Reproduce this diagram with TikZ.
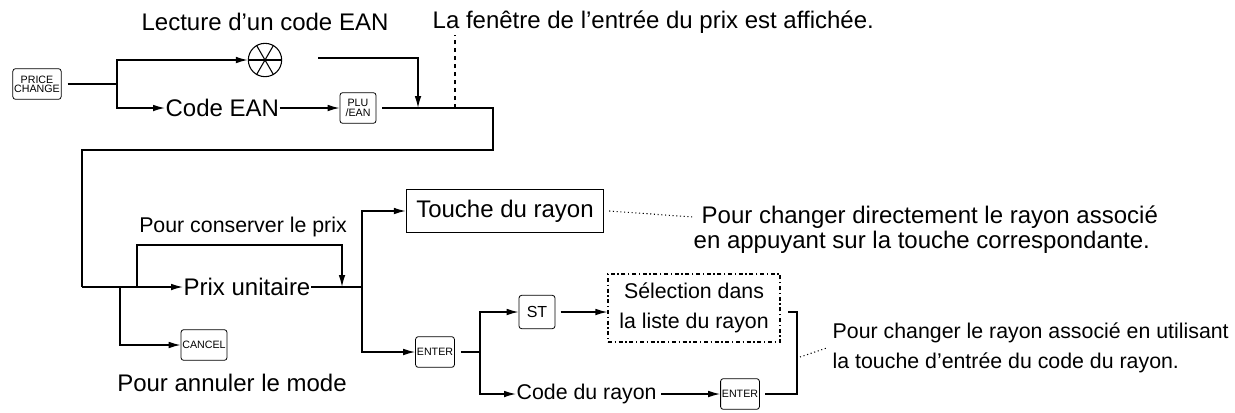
\documentclass[tikz,border=0pt]{standalone}
\usepackage{fontspec}
\setmainfont{Liberation Sans}
\usetikzlibrary{arrows.meta}
\begin{document}
\begin{tikzpicture}[x=0.75pt,y=-0.75pt,
  line width=1pt,
  txt/.style={inner sep=0pt,font=\fontsize{18}{21}\selectfont},
  mtxt/.style={inner sep=0pt,font=\fontsize{16}{19}\selectfont},
  key/.style={draw,rounded corners=2pt,line width=0.6pt,inner sep=1pt,align=center,font=\fontsize{8}{8}\selectfont,minimum height=23pt},
  arr/.style={-{Latex[length=9pt,width=5pt]}},
  dotl/.style={dotted,line width=0.8pt}]
\useasboundingbox (0,0) rectangle (1235,412);
% top part
\node[key,minimum width=36pt] (pc) at (37,84) {PRICE\\[-1pt]CHANGE};
\coordinate (b1) at (117,84);
\draw (pc.east) ++(6,0) -- (b1);
\node[draw,circle,minimum size=25pt,inner sep=0pt,line width=0.8pt] (scan) at (265,60) {};
\foreach \a in {0,60,120}{\draw[line width=0.8pt] (scan.\a) -- (scan.\a+180);}
\node[txt] (lect) at (265,22) {Lecture d’un code EAN};
\draw[arr] (b1) |- (scan.west);
\node[txt,anchor=west] (cean) at (165,108) {Code EAN};
\draw[arr] (b1) |- (cean.west);
\node[key,minimum width=27pt] (plu) at (358,108) {PLU\\[-1pt]/EAN};
\draw[arr] (cean.east) -- (plu.west);
\coordinate (s1) at (318,58);
\coordinate (j1) at (418,108);
\draw[arr] (s1) -| (j1);
\coordinate (c1) at (493,108);
\coordinate (c2) at (82,287);
\draw (plu.east) ++(6,0) -- (c1) |- (82,150) -- (c2);
\coordinate (d1) at (455,108);
\node[txt,anchor=west] (fen) at (432,22) {La fenêtre de l’entrée du prix est affichée.};
\draw[dashed,line width=0.8pt] (d1) -- (455,35);
% middle part
\node[txt,anchor=west] (prix) at (183,287) {Prix unitaire};
\draw[arr] (c2) -- (prix.west);
\coordinate (b2) at (120,287);
\node[key,minimum width=28pt] (cancel) at (204,345) {CANCEL};
\draw[arr] (b2) |- (cancel.west);
\node[txt] (annul) at (232,383) {Pour annuler le mode};
\coordinate (b3) at (137,287);
\coordinate (j2) at (342,287);
\draw[arr] (b3) -- (137,245) -| (j2);
\node[mtxt] (cons) at (243,227) {Pour conserver le prix};
\coordinate (b4) at (362,287);
\draw (prix.east) -- (b4);
\node[draw,line width=0.8pt,txt,minimum width=148pt,minimum height=32pt] (touche) at (505,211) {Touche du rayon};
\node[key,minimum width=29pt] (ent1) at (435,352) {ENTER};
\draw[arr] (b4) |- (touche.west);
\draw[arr] (b4) |- (ent1.west);
\node[txt,anchor=west] (ch1) at (701,217) {Pour changer directement le rayon associé};
\node[txt,anchor=west] (ch1b) at (693,242) {en appuyant sur la touche correspondante.};
\draw[dotl] (touche.east) ++(5,0) -- ([xshift=-6pt]ch1.west);
% lower branch
\coordinate (b5) at (480,352);
\draw (ent1.east) ++(6,0) -- (b5);
\node[key,minimum width=27pt,minimum height=25pt,font=\fontsize{12}{12}\selectfont] (st) at (537,312) {ST};
\draw[arr] (b5) |- (st.west);
\node[draw,dash dot,line width=0.8pt,mtxt,align=center,minimum width=129pt,minimum height=51pt] (sel) at (694,308) {Sélection dans\\[3pt]la liste du rayon};
\draw[arr] ([xshift=4pt]st.east) -- (st.east -| sel.west);
\node[mtxt,anchor=west] (cray) at (516,394) {Code du rayon};
\draw[arr] (b5) |- (cray.west);
\node[key,minimum width=29pt] (ent2) at (740,394) {ENTER};
\draw[arr] (cray.east) ++(4,0) -- (ent2.west);
\coordinate (br) at (797,357);
\draw (788,312) -- (797,312) -- (797,394) -- (765,394);
\node[mtxt,align=left,anchor=west] (ch2) at (832,348) {Pour changer le rayon associé en utilisant\\[3pt]la touche d’entrée du code du rayon.};
\draw[dotl] (br) ++(3,0) -- ([xshift=-4pt]ch2.west);
\end{tikzpicture}
\end{document}
